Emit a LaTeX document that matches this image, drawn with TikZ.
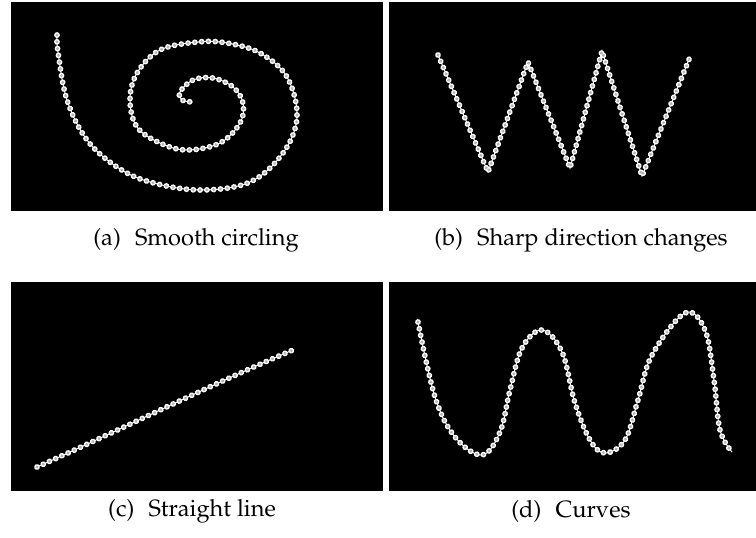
\documentclass[tikz,border=0pt]{standalone}
\usepackage[T1]{fontenc}
\usepackage{mathpazo}
\usepackage{tikz}

\begin{document}
\begin{tikzpicture}[x=0.5pt,y=-0.5pt,
  every node/.style={font=\fontsize{11.8}{14}\selectfont},
  panel/.style={fill=black},
  chain/.style={draw=white,line width=2.9pt,line cap=round,line join=round,
    dash pattern=on 0.01pt off 3.4pt,
    preaction={draw=white,line width=0.5pt,solid,line cap=round},
    postaction={draw=gray!60,line width=1.6pt,line cap=round,dash pattern=on 0.01pt off 3.4pt}}]
\useasboundingbox (0,0) rectangle (756,537);
% panels
\fill[panel] (11,2) rectangle (383,211);
\fill[panel] (389,2) rectangle (756,211);
\fill[panel] (11,282) rectangle (383,491);
\fill[panel] (389,282) rectangle (756,491);
% (a) spiral
\draw[chain] plot[smooth,tension=0.6] coordinates {(57,35) (58,52) (67,100) (87,140)
  (117,167) (150,182) (200,190) (250,182) (283,153) (297,117) (287,77) (260,53)
  (227,43) (198,42) (160,50) (137,73) (130,100) (137,127) (160,143) (187,150)
  (220,143) (240,123) (243,103) (233,87) (213,78) (193,80) (180,92) (182,100) (192,102)};
% (b) zig-zag
\draw[chain] (438,55) -- (488,172) -- (528,62) -- (570,168) -- (602,51) -- (642,176) -- (690,57);
% (c) straight line
\draw[chain] (37,467) .. controls (120,430) and (210,385) .. (293,350);
% (d) curves
\draw[chain] plot[smooth,tension=0.6] coordinates {(418,322) (435,397) (455,437) (482,455)
  (500,432) (510,390) (522,348) (542,330) (562,352) (575,403) (590,440) (605,453)
  (625,440) (638,400) (652,355) (685,313) (705,330) (714,380) (720,430) (732,452)};
% captions
\node (capa) at (196,240) {(a)\hspace{0.6em}Smooth circling};
\node (capb) at (581,240) {(b)\hspace{0.6em}Sharp direction changes};
\node (capc) at (192,511) {(c)\hspace{0.6em}Straight line};
\node (capd) at (571,511) {(d)\hspace{0.6em}Curves};
\end{tikzpicture}
\end{document}
